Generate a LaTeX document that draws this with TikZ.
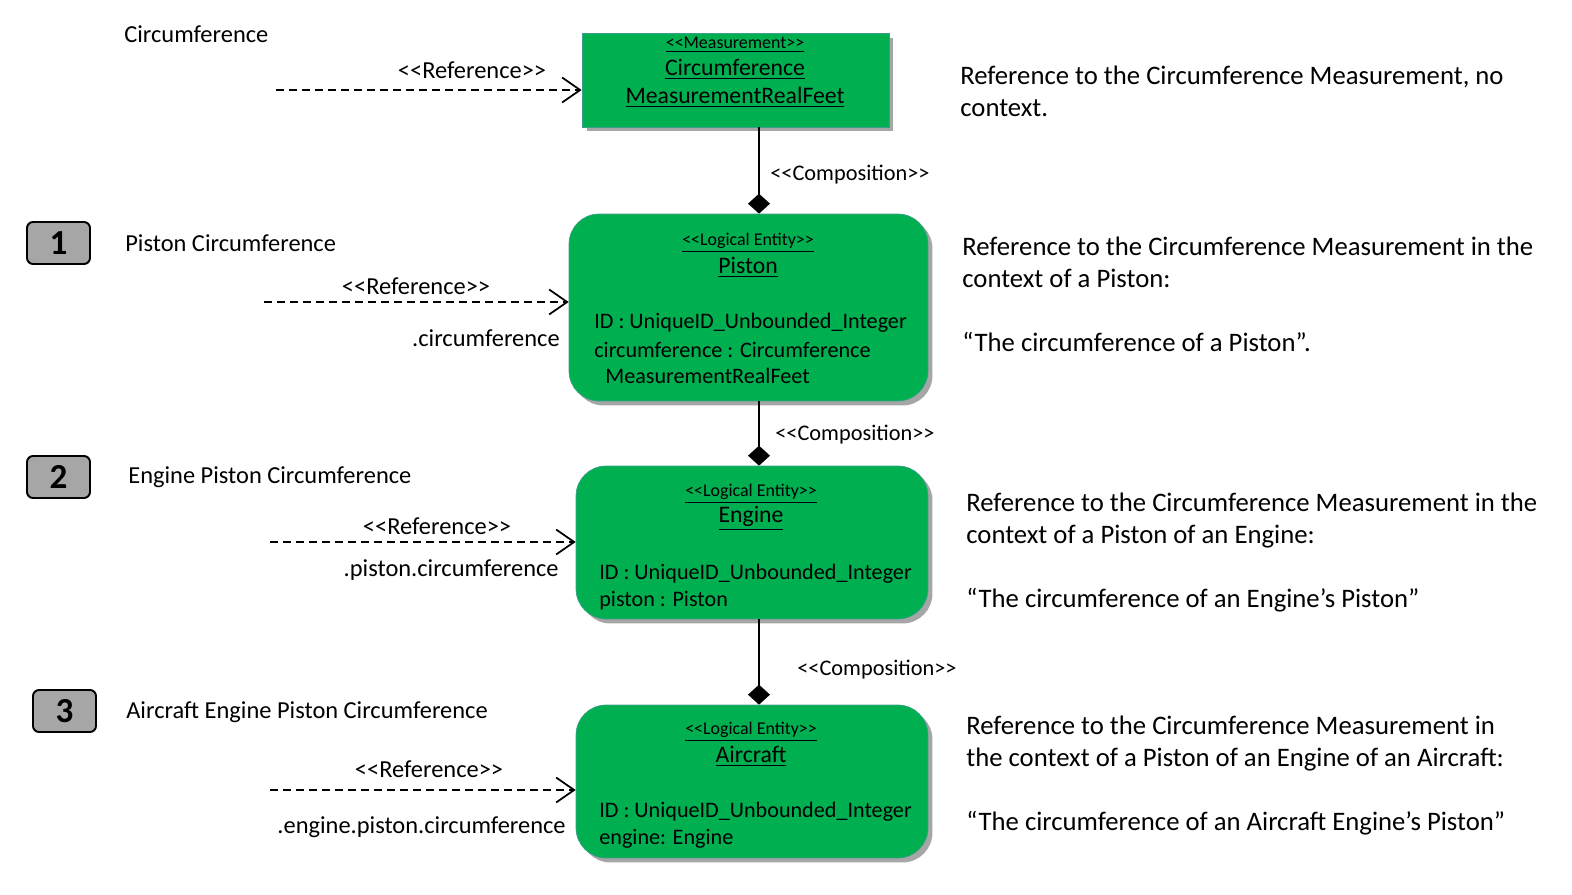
\documentclass[tikz,border=0pt]{standalone}
\usepackage{fontspec}
\setmainfont{Carlito}[Ligatures=TeXOff]
\usepackage{tikz}
\usetikzlibrary{arrows.meta,shadows}

\definecolor{entgreen}{HTML}{00B050}
\definecolor{entline}{HTML}{3E9E8C}
\definecolor{badgegray}{HTML}{A6A6A6}

\begin{document}
\begin{tikzpicture}[x=0.02cm,y=-0.02cm,
    entity/.style={fill=entgreen, draw=entline, line width=0.4pt,
        drop shadow={shadow xshift=0.09cm, shadow yshift=-0.09cm, opacity=0.35, fill=black}},
    badge/.style={fill=badgegray, draw=black, line width=1.1pt, rounded corners=0.12cm,
        minimum width=1.26cm, minimum height=0.84cm, font=\fontsize{20}{24}\selectfont\bfseries},
    refline/.style={line width=1pt, dash pattern=on 0.16cm off 0.1cm,
        -{Straight Barb[length=0.36cm,width=0.5cm]}},
    compline/.style={line width=1.1pt, -{Diamond[length=0.4cm,width=0.44cm]}},
    lbl/.style={inner sep=0pt, font=\fontsize{13.9}{16}\selectfont},
    complbl/.style={inner sep=0pt, anchor=west, font=\fontsize{12.7}{15}\selectfont},
    note/.style={inner sep=0pt, anchor=north west, align=left, font=\fontsize{15.2}{18.2}\selectfont},
    stereo/.style={inner sep=0pt, font=\fontsize{10.2}{12}\selectfont},
    title/.style={inner sep=0pt, font=\fontsize{13.5}{16}\selectfont},
    attr/.style={inner sep=0pt, anchor=west, font=\fontsize{12.6}{15}\selectfont}]
    \useasboundingbox (0,0) rectangle (1572,895);

    % Clases
    \node[entity, minimum width=6.14cm, minimum height=1.88cm] (meas) at (735.5,80) {};
    \node[entity, rounded corners=0.6cm, minimum width=7.18cm, minimum height=3.74cm] (piston) at (748.5,307.5) {};
    \node[entity, rounded corners=0.6cm, minimum width=7.04cm, minimum height=3.06cm] (engine) at (752,542.5) {};
    \node[entity, rounded corners=0.6cm, minimum width=7.04cm, minimum height=3.06cm] (aircraft) at (752,781.5) {};

    % Texto de las clases
    \node[stereo] (measst) at (735,45) {\underline{<<Measurement>>}};
    \node[title] (measna) at (735,69) {\underline{Circumference}};
    \node[title] (measnb) at (735,97) {\underline{MeasurementRealFeet}};

    \node[stereo] (pistonst) at (748,243) {\underline{<<Logical Entity>>}};
    \node[title] (pistonna) at (748,267) {\underline{Piston}};
    \node[attr] (pistona) at (594,323) {ID : UniqueID\_Unbounded\_Integer};
    \node[attr] (pistonb) at (594,350) {circumference : Circumference};
    \node[attr] (pistonc) at (605,376) {MeasurementRealFeet};

    \node[stereo] (enginest) at (751,494) {\underline{<<Logical Entity>>}};
    \node[title] (enginena) at (751,518) {\underline{Engine}};
    \node[attr] (enginea) at (599,574) {ID : UniqueID\_Unbounded\_Integer};
    \node[attr] (engineb) at (599,601) {piston : Piston};

    \node[stereo] (aircraftst) at (751,732) {\underline{<<Logical Entity>>}};
    \node[title] (aircraftna) at (751,756) {\underline{Aircraft}};
    \node[attr] (aircrafta) at (599,812) {ID : UniqueID\_Unbounded\_Integer};
    \node[attr] (aircraftb) at (599,839) {engine: Engine};

    % Composiciones
    \coordinate (spine) at (759,0);
    \draw[compline] (meas.south -| spine) -- (piston.north -| spine);
    \draw[compline] (piston.south -| spine) -- (engine.north -| spine);
    \draw[compline] (engine.south -| spine) -- (aircraft.north -| spine);
    \node[complbl] (compa) at (770,175) {<<Composition>>};
    \node[complbl] (compb) at (775,435) {<<Composition>>};
    \node[complbl] (compc) at (797,670) {<<Composition>>};

    % Referencias
    \coordinate (refa) at (276,90);
    \coordinate (refb) at (264,302);
    \coordinate (refc) at (270,542);
    \coordinate (refd) at (270,790);
    \draw[refline] (refa) -- (refa -| meas.west);
    \draw[refline] (refb) -- (refb -| piston.west);
    \draw[refline] (refc) -- (refc -| engine.west);
    \draw[refline] (refd) -- (refd -| aircraft.west);
    \node[lbl] (refla) at (472,70) {<<Reference>>};
    \node[lbl] (reflb) at (416,286) {<<Reference>>};
    \node[lbl] (reflc) at (437,526) {<<Reference>>};
    \node[lbl] (refld) at (429,769) {<<Reference>>};
    \node[lbl, anchor=east] (pathb) at (560,338) {.circumference};
    \node[lbl, anchor=east] (pathc) at (559,570) {.piston.circumference};
    \node[lbl, anchor=east] (pathd) at (566,827) {.engine.piston.circumference};

    % Etiquetas de la izquierda
    \node[lbl, anchor=west] (namea) at (124,34) {Circumference};
    \node[lbl, anchor=west] (nameb) at (125,243) {Piston Circumference};
    \node[lbl, anchor=west] (namec) at (128,477) {Engine Piston Circumference};
    \node[lbl, anchor=west] (named) at (126,712) {Aircraft Engine Piston Circumference};
    \node[badge] (badgeb) at (58.5,243) {1};
    \node[badge] (badgec) at (58.5,477) {2};
    \node[badge] (badged) at (64.5,711) {3};

    % Notas de la derecha
    \node[note] (notea) at (960,66) {Reference to the Circumference Measurement, no\\context.};
    \node[note] (noteb) at (962,237) {Reference to the Circumference Measurement in the\\context of a Piston:\\[18.2pt]“The circumference of a Piston”.};
    \node[note] (notec) at (966,493) {Reference to the Circumference Measurement in the\\context of a Piston of an Engine:\\[18.2pt]“The circumference of an Engine’s Piston”};
    \node[note] (noted) at (966,716) {Reference to the Circumference Measurement in\\the context of a Piston of an Engine of an Aircraft:\\[18.2pt]“The circumference of an Aircraft Engine’s Piston”};
\end{tikzpicture}
\end{document}
